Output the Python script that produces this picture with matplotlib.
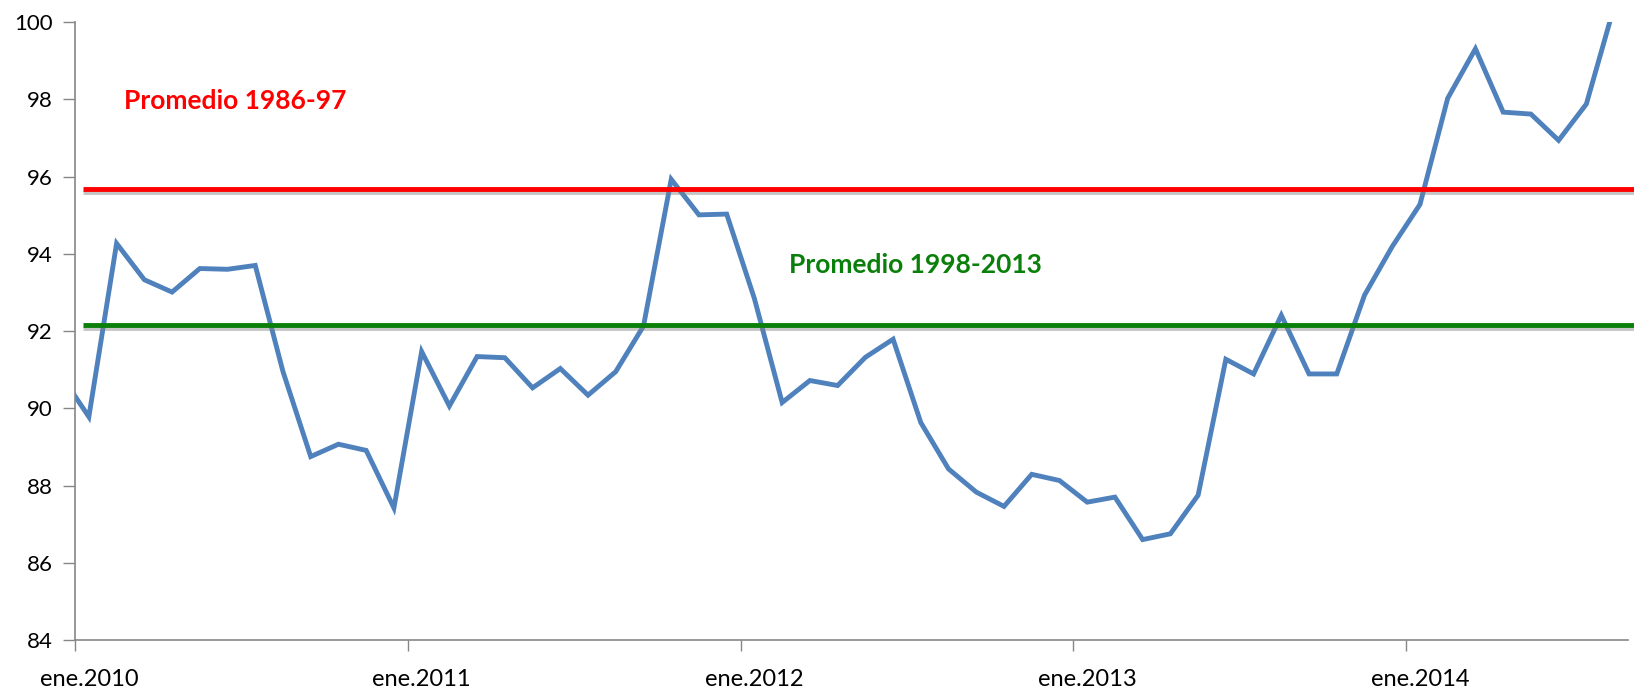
import numpy as np
import matplotlib
matplotlib.use("Agg")
import matplotlib.pyplot as plt
import matplotlib.patheffects as pe

plt.rcParams["font.family"] = ["Lato", "DejaVu Sans"]

# índice mensual, dic.2009 .. ago.2014 (el primer punto queda fuera del eje)
indice = [90.85, 89.78, 94.27, 93.33, 93.01, 93.62, 93.60, 93.70, 90.95, 88.75,
          89.07, 88.91, 87.42, 91.47, 90.06, 91.34, 91.31, 90.53, 91.03, 90.34,
          90.95, 92.13, 95.93, 95.01, 95.03, 92.84, 90.15, 90.72, 90.59, 91.32,
          91.79, 89.63, 88.43, 87.83, 87.46, 88.29, 88.13, 87.57, 87.70, 86.60,
          86.75, 87.75, 91.27, 90.89, 92.41, 90.89, 90.89, 92.93, 94.19, 95.28,
          98.03, 99.31, 97.67, 97.62, 96.94, 97.88, 100.40]
anios = ["ene.2010", "ene.2011", "ene.2012", "ene.2013", "ene.2014"]
prom_86_97 = 95.68
prom_98_13 = 92.15

# posicion: centro de cada mes, ene.2010 empieza en 0
x = np.arange(len(indice)) - 0.5

fig = plt.figure(figsize=(16.34, 6.93), dpi=100)
ax = fig.add_axes([0.0459, 0.0765, 0.9504, 0.8915])

ax.plot(x, indice, color="#4F81BD", linewidth=3.5, solid_joinstyle="miter")

sombra = [pe.SimpleLineShadow(offset=(0, -2), shadow_color="gray", alpha=0.45),
          pe.Normal()]
ax.plot([0.28, 56.3], [prom_86_97, prom_86_97], color="#FF0000", linewidth=3.5,
        clip_on=False, path_effects=sombra, solid_capstyle="butt")
ax.plot([0.28, 56.3], [prom_98_13, prom_98_13], color="#0A800A", linewidth=3.5,
        clip_on=False, path_effects=sombra, solid_capstyle="butt")

ax.text(1.77, 97.95, "Promedio 1986-97", color="#FF0000", fontsize=19,
        fontweight="bold", va="center", ha="left")
ax.text(25.74, 93.72, "Promedio 1998-2013", color="#0A800A", fontsize=19,
        fontweight="bold", va="center", ha="left")

ax.set_xlim(0, 56)
ax.set_ylim(84, 100)

ax.set_yticks(np.arange(84, 101, 2))
ax.tick_params(axis="y", labelsize=16, length=9, width=1, color="#868686", pad=7)

ax.set_xticks(np.arange(0, 56, 12))
ax.set_xticklabels([])
ax.set_xticks(np.arange(len(anios)) * 12 + 0.5, minor=True)
ax.set_xticklabels(anios, minor=True)
ax.tick_params(axis="x", which="major", length=8, width=1, color="#868686")
ax.tick_params(axis="x", which="minor", length=0, labelsize=17, pad=21)

for s in ["top", "right"]:
    ax.spines[s].set_visible(False)
for s in ["left", "bottom"]:
    ax.spines[s].set_color("#868686")
    ax.spines[s].set_linewidth(1.2)

fig.savefig("out.png", dpi=100)
